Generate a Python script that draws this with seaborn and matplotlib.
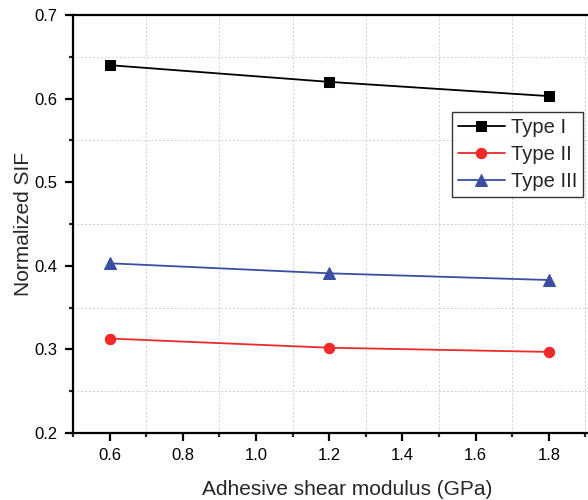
import matplotlib
matplotlib.use("Agg")
import matplotlib.pyplot as plt
from matplotlib.ticker import MultipleLocator
import pandas as pd
import seaborn as sns

# data
modulus = [0.6, 1.2, 1.8]
type_1 = [0.640, 0.620, 0.603]
type_2 = [0.313, 0.302, 0.297]
type_3 = [0.403, 0.391, 0.383]
series_names = ["Type I", "Type II", "Type III"]

sns.set_style("ticks")
plt.rcParams['font.family'] = ['Liberation Sans', 'DejaVu Sans']

df = pd.DataFrame({
    "modulus": modulus * 3,
    "sif": type_1 + type_2 + type_3,
    "type": [n for n in series_names for _ in modulus],
})

fig = plt.figure(figsize=(5.88, 5.00), dpi=100)
ax = fig.add_axes([73 / 588, 1 - 433 / 500, (622 - 73) / 588, (433 - 15) / 500])

colors = {"Type I": "black", "Type II": "#EE2A2A", "Type III": "#3A4EA2"}
markers = {"Type I": "s", "Type II": "o", "Type III": "^"}
sizes = {"Type I": 7, "Type II": 7.5, "Type III": 8}

for name in series_names:
    sub = df[df["type"] == name]
    sns.lineplot(data=sub, x="modulus", y="sif", ax=ax, color=colors[name],
                 marker=markers[name], markersize=sizes[name],
                 markeredgecolor=colors[name], linewidth=1.3, label=name)

ax.set_xlim(0.5, 2.0)
ax.set_ylim(0.2, 0.7)
ax.set_xticks([0.6, 0.8, 1.0, 1.2, 1.4, 1.6, 1.8])
ax.set_xticks([0.5, 0.7, 0.9, 1.1, 1.3, 1.5, 1.7, 1.9], minor=True)
ax.yaxis.set_major_locator(MultipleLocator(0.1))
ax.yaxis.set_minor_locator(MultipleLocator(0.05))

ax.grid(which="minor", color="#d0d0d0", linestyle=(0, (2, 2)), linewidth=0.7)
ax.grid(which="major", visible=False)

for s in ax.spines.values():
    s.set_linewidth(1.6)
    s.set_color("black")
ax.spines["right"].set_visible(False)

ax.tick_params(which="major", direction="out", length=6, width=1.6, labelsize=12,
               colors="black", pad=5)
ax.tick_params(which="minor", direction="out", length=3, width=1.6)
ax.tick_params(top=False, right=False, which="both")

ax.set_xlabel("Adhesive shear modulus (GPa)", fontsize=15, labelpad=12)
ax.set_ylabel("Normalized SIF", fontsize=15, labelpad=1)

leg = ax.legend(loc="upper right", bbox_to_anchor=(583 / 588, 1 - 112 / 500),
                bbox_transform=fig.transFigure, borderaxespad=0, fontsize=14.5,
                frameon=True, fancybox=False, handlelength=2.3, labelspacing=0.4,
                handletextpad=0.3, borderpad=0.3)
leg.get_frame().set_edgecolor("black")
leg.get_frame().set_linewidth(1.0)

fig.savefig("out.png", dpi=100)
